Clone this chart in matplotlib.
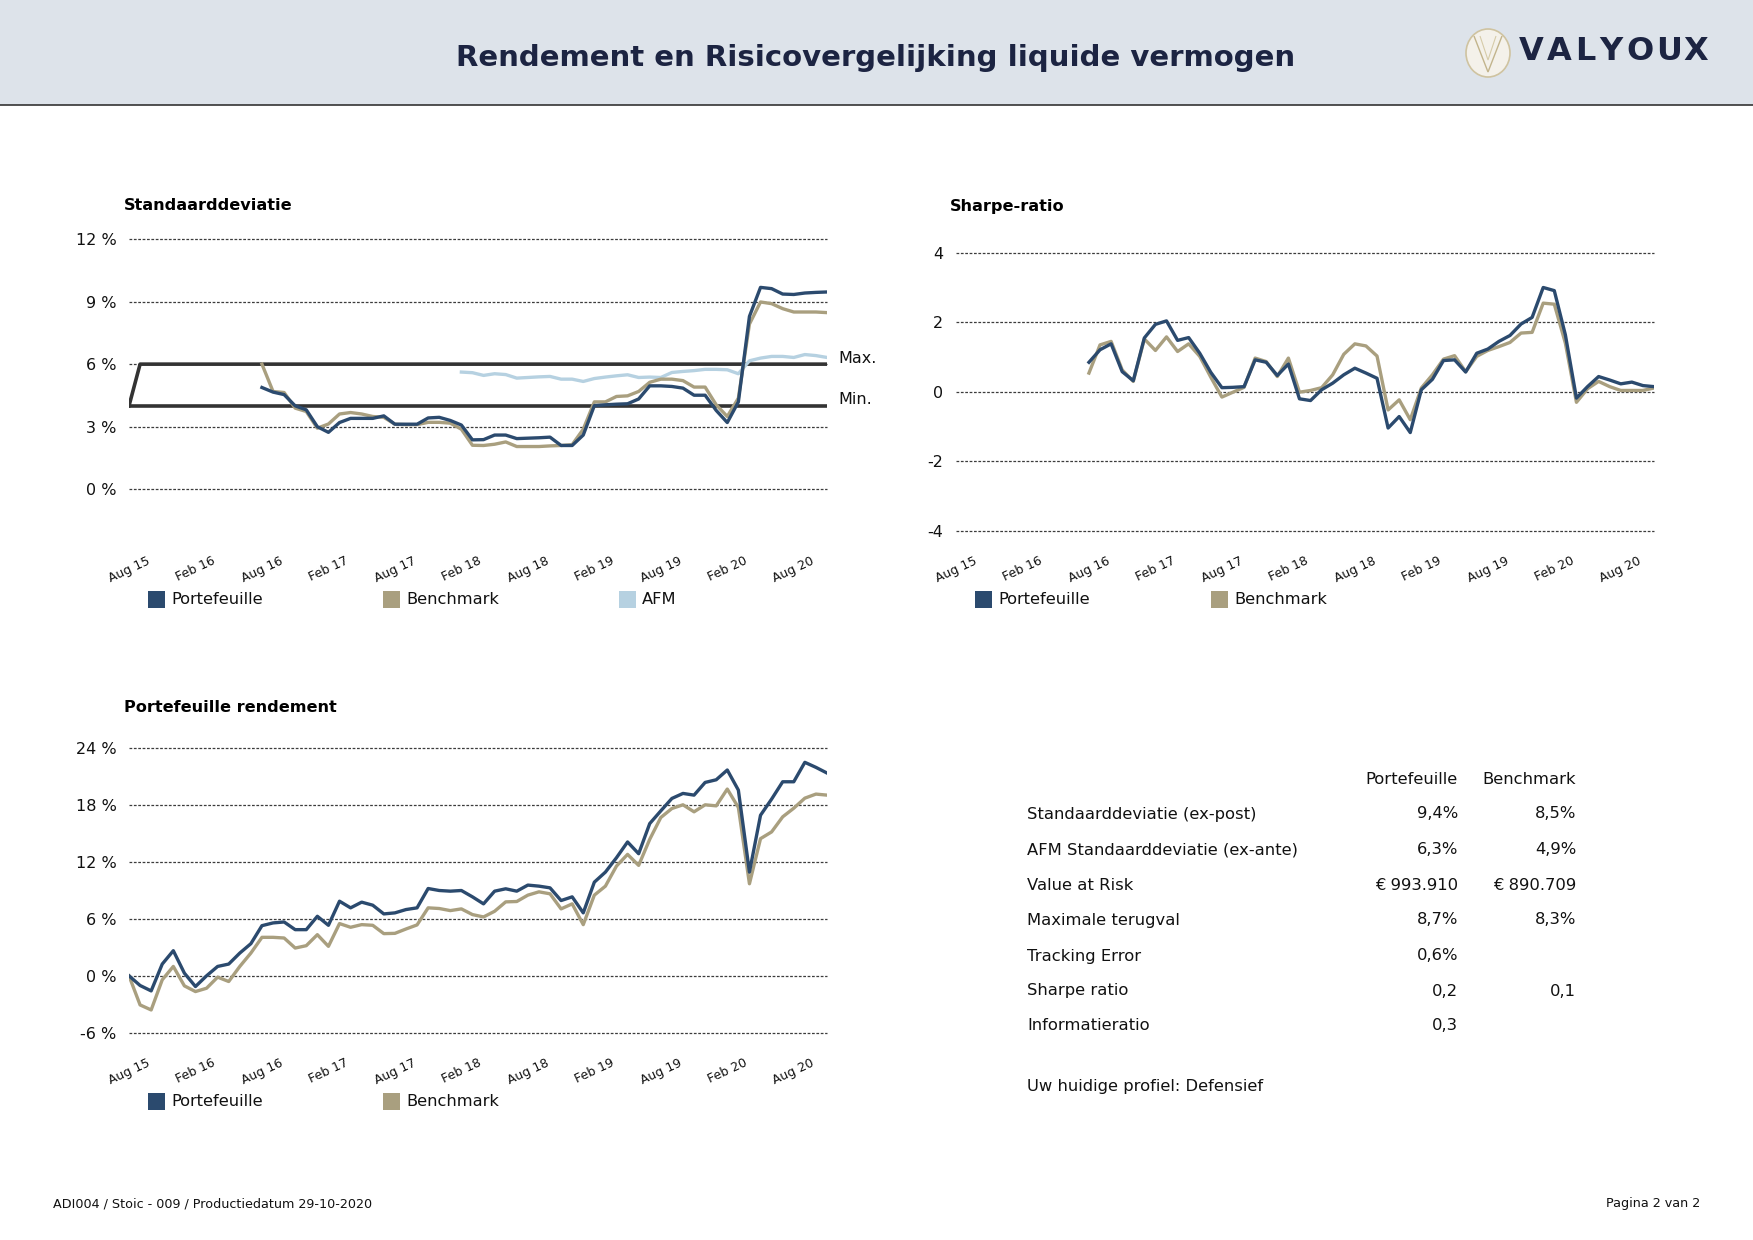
import matplotlib
matplotlib.use('Agg')
import matplotlib.pyplot as plt
from matplotlib.patches import Rectangle, Ellipse, Polygon
from matplotlib.lines import Line2D
from matplotlib.textpath import TextPath
from matplotlib.font_manager import FontProperties
import numpy as np

plt.rcParams['font.family'] = ['DejaVu Sans']

# ---------------- data ----------------
N_POINTS = 64
tick_idx = [0, 6, 12, 18, 24, 30, 36, 42, 48, 54, 60]
tick_labels = ["Aug 15", "Feb 16", "Aug 16", "Feb 17", "Aug 17", "Feb 18",
               "Aug 18", "Feb 19", "Aug 19", "Feb 20", "Aug 20"]

# Standaarddeviatie (%), series start at index 12 (AFM at index 30)
std_port = [None] * 12 + [
    4.88, 4.66, 4.54, 4.0, 3.81, 3.0, 2.73, 3.2, 3.4, 3.4, 3.4, 3.52, 3.12, 3.12, 3.12,
    3.42, 3.45, 3.3, 3.08, 2.37, 2.38, 2.6, 2.6, 2.43, 2.45, 2.47, 2.5, 2.1, 2.1, 2.6,
    4.01, 4.05, 4.08, 4.1, 4.33, 4.96, 4.96, 4.93, 4.85, 4.51, 4.51, 3.78, 3.2, 4.19,
    8.29, 9.68, 9.62, 9.36, 9.34, 9.41, 9.44, 9.46]
std_bench = [None] * 12 + [
    6.0, 4.69, 4.64, 3.89, 3.73, 2.93, 3.13, 3.61, 3.68, 3.61, 3.49, 3.45, 3.12, 3.1, 3.1,
    3.21, 3.21, 3.17, 2.88, 2.11, 2.1, 2.16, 2.27, 2.05, 2.05, 2.05, 2.08, 2.1, 2.14, 2.88,
    4.19, 4.19, 4.45, 4.48, 4.69, 5.13, 5.28, 5.28, 5.21, 4.9, 4.9, 4.05, 3.49, 4.37,
    7.92, 8.98, 8.9, 8.66, 8.5, 8.5, 8.5, 8.47]
std_afm = [None] * 30 + [
    5.62, 5.59, 5.46, 5.54, 5.5, 5.33, 5.36, 5.39, 5.41, 5.28, 5.28, 5.17, 5.31, 5.38,
    5.44, 5.49, 5.36, 5.38, 5.36, 5.6, 5.65, 5.69, 5.75, 5.75, 5.73, 5.54, 6.16, 6.29,
    6.37, 6.37, 6.32, 6.46, 6.41, 6.32]
band_min_value = 4.0
band_max_value = 6.0
band_max = [band_min_value] + [band_max_value] * (N_POINTS - 1)
band_min = [band_min_value] * N_POINTS

# Sharpe-ratio, starts at index 12
sharpe_port = [None] * 12 + [
    0.85, 1.21, 1.38, 0.58, 0.32, 1.55, 1.94, 2.04, 1.48, 1.56, 1.11, 0.56, 0.12, 0.13,
    0.15, 0.92, 0.85, 0.47, 0.8, -0.2, -0.25, 0.06, 0.25, 0.49, 0.68, 0.54, 0.39, -1.04,
    -0.71, -1.17, 0.06, 0.36, 0.9, 0.92, 0.57, 1.11, 1.23, 1.45, 1.62, 1.95, 2.14, 3.0,
    2.91, 1.64, -0.18, 0.15, 0.44, 0.34, 0.23, 0.28, 0.18, 0.15]
sharpe_bench = [None] * 12 + [
    0.54, 1.35, 1.45, 0.63, 0.3, 1.52, 1.19, 1.58, 1.16, 1.38, 1.02, 0.42, -0.15, -0.01,
    0.13, 0.97, 0.87, 0.44, 0.97, -0.01, 0.04, 0.12, 0.49, 1.08, 1.38, 1.32, 1.03, -0.52,
    -0.23, -0.8, 0.11, 0.49, 0.94, 1.04, 0.58, 1.02, 1.19, 1.3, 1.42, 1.69, 1.71, 2.55,
    2.52, 1.4, -0.3, 0.09, 0.3, 0.15, 0.04, 0.04, 0.04, 0.11]

# Portefeuille rendement (cumulative %, index 0..63)
ret_port = [
    0, -1.02, -1.59, 1.24, 2.65, 0.28, -1.13, 0, 0.99, 1.24,
    2.4, 3.39, 5.29, 5.58, 5.68, 4.87, 4.87, 6.28, 5.33, 7.87,
    7.17, 7.77, 7.45, 6.53, 6.64, 6.99, 7.17, 9.21, 9.0, 8.93,
    9.0, 8.33, 7.59, 8.93, 9.18, 8.93, 9.57, 9.46, 9.28, 7.94,
    8.33, 6.64, 9.88, 10.94, 12.46, 14.12, 12.88, 16.06, 17.4, 18.71,
    19.24, 19.06, 20.4, 20.68, 21.71, 19.59, 10.94, 16.94, 18.64, 20.47,
    20.47, 22.52, 21.99, 21.39]
ret_bench = [
    0, -3.07, -3.6, -0.42, 0.99, -1.06, -1.66, -1.31, -0.14, -0.6,
    0.99, 2.4, 4.06, 4.06, 3.99, 2.93, 3.18, 4.34, 3.11, 5.51,
    5.12, 5.4, 5.33, 4.45, 4.48, 4.94, 5.37, 7.17, 7.1, 6.88,
    7.06, 6.46, 6.21, 6.81, 7.8, 7.84, 8.51, 8.86, 8.65, 7.06,
    7.59, 5.4, 8.51, 9.46, 11.58, 12.81, 11.65, 14.4, 16.7, 17.65,
    18.04, 17.3, 18.04, 17.93, 19.7, 17.76, 9.71, 14.47, 15.18, 16.77,
    17.68, 18.74, 19.17, 19.06]

std_yticks = [0, 3, 6, 9, 12]
std_yticklabels = ["0 %", "3 %", "6 %", "9 %", "12 %"]
sharpe_yticks = [-4, -2, 0, 2, 4]
sharpe_yticklabels = ["-4", "-2", "0", "2", "4"]
ret_yticks = [-6, 0, 6, 12, 18, 24]
ret_yticklabels = ["-6 %", "0 %", "6 %", "12 %", "18 %", "24 %"]

table_header = ["Portefeuille", "Benchmark"]
table_rows = ["Standaarddeviatie (ex-post)", "AFM Standaarddeviatie (ex-ante)",
              "Value at Risk", "Maximale terugval", "Tracking Error",
              "Sharpe ratio", "Informatieratio"]
table_port = ["9,4%", "6,3%", "€ 993.910", "8,7%", "0,6%", "0,2", "0,3"]
table_bench = ["8,5%", "4,9%", "€ 890.709", "8,3%", "", "0,1", ""]
profile_text = "Uw huidige profiel: Defensief"

# ---------------- style ----------------
C_PORT = '#2b4a6e'
C_BENCH = '#a99f7f'
C_AFM = '#b6d1e1'
C_BAND = '#333333'
C_GRID = '#3c3c3c'
C_TITLE = '#1c2442'
LW = 2.4

W, H = 1753, 1240
fig = plt.figure(figsize=(W / 100, H / 100), dpi=100)
fig.patch.set_facecolor('white')


def fx(x):
    return x / W


def fy(y):
    return 1 - y / H


def add_ax(x0, y0, x1, y1):
    return fig.add_axes([fx(x0), fy(y1), (x1 - x0) / W, (y1 - y0) / H])


def ftext(x, y, s, **kw):
    fig.text(fx(x), fy(y), s, **kw)


def style_ax(ax, yticks, yticklabels, ylim):
    ax.set_xlim(0, N_POINTS - 1)
    ax.set_ylim(*ylim)
    for sp in ax.spines.values():
        sp.set_visible(False)
    ax.set_yticks(yticks)
    ax.set_yticklabels(yticklabels, fontsize=11.5, color='#111111')
    ax.set_xticks(tick_idx)
    ax.set_xticklabels(tick_labels, rotation=25, fontsize=9, color='#111111')
    ax.tick_params(axis='x', length=0, pad=17)
    ax.tick_params(axis='y', length=0, pad=9)
    ax.yaxis.grid(True, linestyle=(0, (2.2, 1.3)), color=C_GRID, linewidth=0.9)
    for gl in ax.get_ygridlines():
        gl.set_clip_on(False)
    ax.xaxis.grid(False)
    ax.set_axisbelow(True)
    ax.patch.set_alpha(0)


def to_arr(v):
    return np.array([np.nan if a is None else a for a in v], dtype=float)


x = np.arange(N_POINTS)

# ---------------- header ----------------
fig.patches.append(Rectangle((0, fy(105)), 1, 105 / H, transform=fig.transFigure,
                             facecolor='#dde3ea', edgecolor='none', zorder=0))
fig.add_artist(Line2D([0, 1], [fy(105), fy(105)], transform=fig.transFigure,
                      color='#333333', lw=1.2))
ftext(876, 58, "Rendement en Risicovergelijking liquide vermogen", ha='center', va='center',
      fontsize=21, fontweight='bold', color=C_TITLE)
# logo emblem
fig.patches.append(Ellipse((fx(1488), fy(53)), 44 / W, 48 / H, transform=fig.transFigure,
                           facecolor='#f4f1ea', edgecolor='#cfc3a0', lw=1.2))
fig.patches.append(Polygon([(fx(1474), fy(36)), (fx(1488), fy(72)), (fx(1502), fy(36))],
                           closed=False, fill=False, transform=fig.transFigure,
                           edgecolor='#c2b48c', lw=1.0))
fig.patches.append(Polygon([(fx(1480), fy(36)), (fx(1488), fy(60)), (fx(1496), fy(36))],
                           closed=False, fill=False, transform=fig.transFigure,
                           edgecolor='#d6cba9', lw=0.8))
# logo word with letter spacing
logo_word = "VALYOUX"
logo_fs = 23
fp = FontProperties(family='DejaVu Sans', weight='bold')
scale = logo_fs * 100 / 72 / 100.0  # TextPath size 100 -> pixels
widths = [TextPath((0, 0), ch, size=100, prop=fp).get_extents().width * scale for ch in logo_word]
advances = [TextPath((0, 0), ch, size=100, prop=fp).vertices[:, 0].max() * scale for ch in logo_word]
tracking = 4.0
total = sum(advances) + tracking * (len(logo_word) - 1)
cx = 1707 - total
for ch, adv in zip(logo_word, advances):
    ftext(cx, 52, ch, ha='left', va='center', fontsize=logo_fs, fontweight='bold',
          color=C_TITLE)
    cx += adv + tracking

# ---------------- chart 1: Standaarddeviatie ----------------
ax1 = add_ax(129, 239, 827, 531)
style_ax(ax1, std_yticks, std_yticklabels, (-2, 12))
ax1.plot(x, band_max, color=C_BAND, lw=2.6, zorder=3)
ax1.plot(x, band_min, color=C_BAND, lw=2.6, zorder=3)
ax1.plot(x, to_arr(std_afm), color=C_AFM, lw=LW, zorder=4)
ax1.plot(x, to_arr(std_bench), color=C_BENCH, lw=LW, zorder=5)
ax1.plot(x, to_arr(std_port), color=C_PORT, lw=LW, zorder=6)
ax1.text(64.0, band_max_value + 0.26, "Max.", fontsize=11.5, va='center', ha='left',
         clip_on=False, color='#111111')
ax1.text(64.0, band_min_value + 0.29, "Min.", fontsize=11.5, va='center', ha='left',
         clip_on=False, color='#111111')
ftext(124, 206, "Standaarddeviatie", fontsize=11.6, fontweight='bold', va='center')

# ---------------- chart 2: Sharpe-ratio ----------------
ax2 = add_ax(956, 252.7, 1654, 531)
style_ax(ax2, sharpe_yticks, sharpe_yticklabels, (-4, 4))
ax2.plot(x, to_arr(sharpe_bench), color=C_BENCH, lw=LW, zorder=5)
ax2.plot(x, to_arr(sharpe_port), color=C_PORT, lw=LW, zorder=6)
ftext(950, 206, "Sharpe-ratio", fontsize=11.6, fontweight='bold', va='center')

# ---------------- chart 3: Portefeuille rendement ----------------
ax3 = add_ax(129, 748.3, 827, 1032.7)
style_ax(ax3, ret_yticks, ret_yticklabels, (-6, 24))
ax3.plot(x, to_arr(ret_bench), color=C_BENCH, lw=LW, zorder=5)
ax3.plot(x, to_arr(ret_port), color=C_PORT, lw=LW, zorder=6)
ftext(124, 708, "Portefeuille rendement", fontsize=11.6, fontweight='bold', va='center')


# ---------------- legends ----------------
def legend_item(xsq, ysq, color, label):
    fig.patches.append(Rectangle((fx(xsq), fy(ysq + 9)), 17 / W, 17 / H,
                                 transform=fig.transFigure, facecolor=color,
                                 edgecolor='none'))
    ftext(xsq + 23, ysq, label, fontsize=11.7, va='center', ha='left', color='#111111')


legend_item(148, 599, C_PORT, "Portefeuille")
legend_item(383, 599, C_BENCH, "Benchmark")
legend_item(619, 599, C_AFM, "AFM")
legend_item(975, 599, C_PORT, "Portefeuille")
legend_item(1211, 599, C_BENCH, "Benchmark")
legend_item(148, 1101, C_PORT, "Portefeuille")
legend_item(383, 1101, C_BENCH, "Benchmark")

# ---------------- table ----------------
TFS = 11.8
ftext(1458, 779, table_header[0], ha='right', va='center', fontsize=TFS, color='#111111')
ftext(1576, 779, table_header[1], ha='right', va='center', fontsize=TFS, color='#111111')
row_y = [814, 850, 885, 920, 956, 991, 1026]
for yy, lab, vp, vb in zip(row_y, table_rows, table_port, table_bench):
    ftext(1027, yy, lab, ha='left', va='center', fontsize=TFS, color='#111111')
    ftext(1458, yy, vp, ha='right', va='center', fontsize=TFS, color='#111111')
    ftext(1576, yy, vb, ha='right', va='center', fontsize=TFS, color='#111111')
ftext(1027, 1086, profile_text, ha='left', va='center', fontsize=TFS, color='#111111')

# ---------------- footer ----------------
ftext(53, 1204, "ADI004 / Stoic - 009 / Productiedatum 29-10-2020", ha='left', va='center',
      fontsize=9.2, color='#111111')
ftext(1700, 1204, "Pagina 2 van 2", ha='right', va='center', fontsize=9.2, color='#111111')

fig.savefig('out.png', dpi=100, facecolor='white')
